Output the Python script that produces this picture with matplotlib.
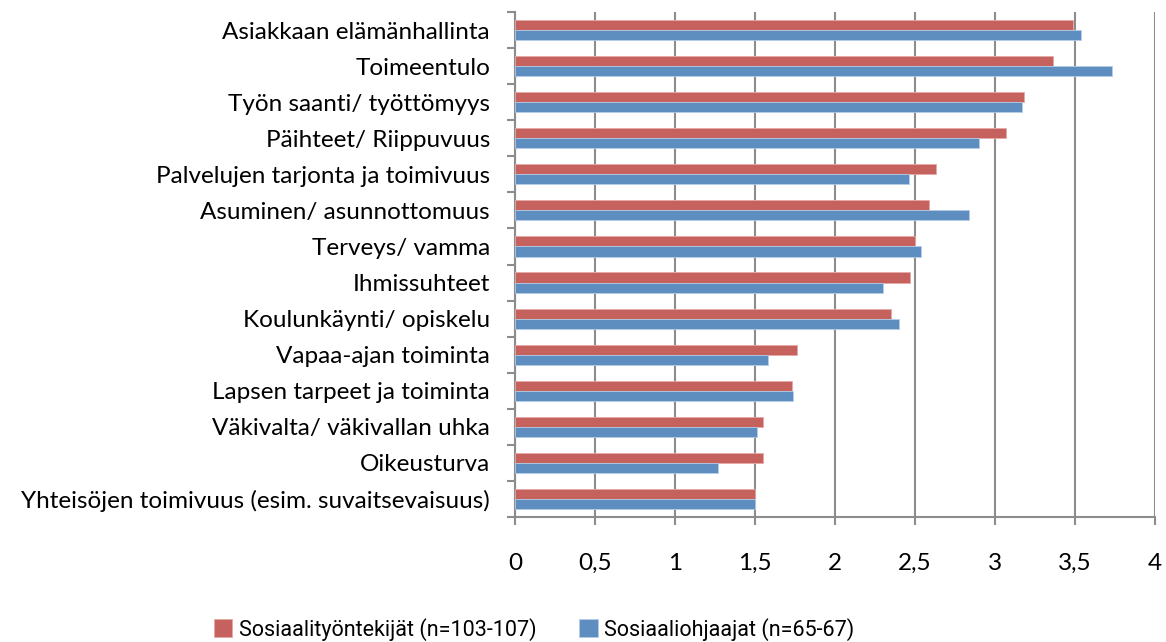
import matplotlib
matplotlib.use("Agg")
import matplotlib.pyplot as plt
import numpy as np

categories = [
    "Asiakkaan elämänhallinta",
    "Toimeentulo",
    "Työn saanti/ työttömyys",
    "Päihteet/ Riippuvuus",
    "Palvelujen tarjonta ja toimivuus",
    "Asuminen/ asunnottomuus",
    "Terveys/ vamma",
    "Ihmissuhteet",
    "Koulunkäynti/ opiskelu",
    "Vapaa-ajan toiminta",
    "Lapsen tarpeet ja toiminta",
    "Väkivalta/ väkivallan uhka",
    "Oikeusturva",
    "Yhteisöjen toimivuus (esim. suvaitsevaisuus)",
]
sosiaalityontekijat = [3.49, 3.36, 3.18, 3.07, 2.63, 2.59, 2.50, 2.47, 2.35, 1.76, 1.73, 1.55, 1.55, 1.50]
sosiaaliohjaajat = [3.54, 3.73, 3.17, 2.90, 2.46, 2.84, 2.54, 2.30, 2.40, 1.58, 1.74, 1.51, 1.27, 1.50]
series_labels = ["Sosiaalityöntekijät (n=103-107)", "Sosiaaliohjaajat (n=65-67)"]
x_ticks = [0, 0.5, 1, 1.5, 2, 2.5, 3, 3.5, 4]
x_ticklabels = ["0", "0,5", "1", "1,5", "2", "2,5", "3", "3,5", "4"]

plt.rcParams['font.family'] = ['Lato', 'DejaVu Sans']
fs = 17.5

fig = plt.figure(figsize=(11.66, 6.42), dpi=100)
ax = fig.add_axes([515/1166, 1-517/642, 640/1166, 505/642])

n = len(categories)
pos = np.arange(n)[::-1]  # top category at highest position
h = 0.28
red = '#C6625D'
blue = '#5E8EC0'
ax.barh(pos + h/2, sosiaalityontekijat, height=h, color=red, edgecolor='#E6A9A6', linewidth=0.6,
        label=series_labels[0], zorder=3)
ax.barh(pos - h/2, sosiaaliohjaajat, height=h, color=blue, edgecolor='#B4CCE6', linewidth=0.6,
        label=series_labels[1], zorder=3)

ax.set_xlim(0, 4)
ax.set_ylim(-0.5, n - 0.5)
ax.set_xticks(x_ticks)
ax.set_xticklabels(x_ticklabels, fontsize=fs)
ax.set_yticks(pos)
ax.set_yticklabels(categories, fontsize=fs)
ax.tick_params(axis='y', length=0, pad=18)
ax.tick_params(axis='x', length=6, width=1.5, color='#8C8C8C', pad=20)
# minor ticks at band boundaries for y axis
ax.set_yticks(np.arange(-0.5, n, 1.0), minor=True)
ax.tick_params(axis='y', which='minor', length=6, width=1.5, color='#8C8C8C')

ax.grid(axis='x', color='#8C8C8C', linewidth=1.5, zorder=0)
for s in ['top', 'right']:
    ax.spines[s].set_visible(False)
for s in ['left', 'bottom']:
    ax.spines[s].set_color('#8C8C8C')
    ax.spines[s].set_linewidth(1.5)

fig.legend(loc='lower center', bbox_to_anchor=(0.458, -0.028), ncol=2, frameon=False,
           prop={'family': ['Roboto', 'Lato'], 'size': 15.5},
           handlelength=0.85, handleheight=0.85, handletextpad=0.3, columnspacing=2.0)

fig.savefig('out.png', dpi=100)
